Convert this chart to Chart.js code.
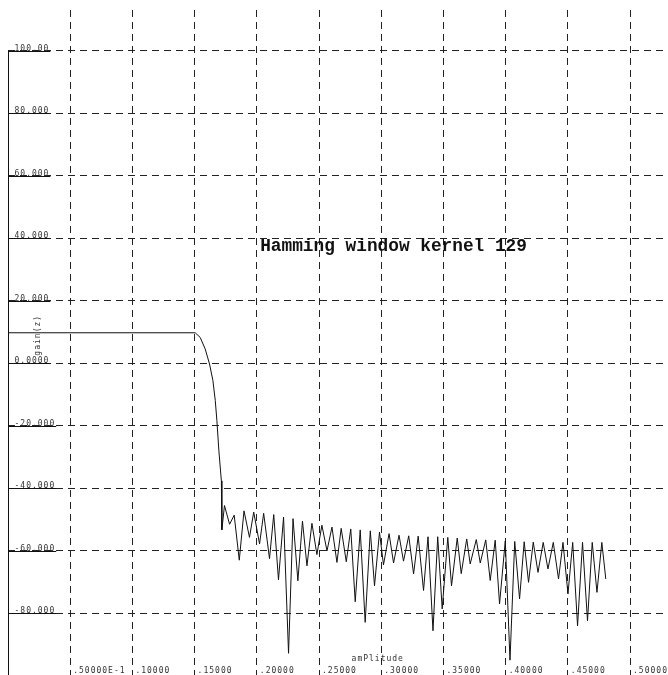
<!DOCTYPE html>
<html>
<head>
<meta charset="utf-8">
<script src="https://cdn.jsdelivr.net/npm/chart.js@4/dist/chart.umd.min.js"></script>
<style>
  html, body { margin: 0; padding: 0; background: #fff; }
  #wrap { width: 668px; height: 675px; position: relative; }
</style>
</head>
<body>
<div id="wrap"><canvas id="respuesta"></canvas></div>
<script>
// frequency response (x = normalised frequency, y = gain)
var frecuencia = [
  0.0000, 0.1505, 0.1545, 0.1585, 0.1620, 0.1647, 0.1666, 0.1679, 0.1695, 0.1715,
  0.1719, 0.1740, 0.1781, 0.1818, 0.1859, 0.1897, 0.1941, 0.1975, 0.2022, 0.2055,
  0.2102, 0.2136, 0.2174, 0.2215, 0.2255, 0.2291, 0.2330, 0.2367, 0.2403, 0.2443,
  0.2483, 0.2523, 0.2564, 0.2604, 0.2644, 0.2678, 0.2719, 0.2755, 0.2791, 0.2831,
  0.2871, 0.2912, 0.2946, 0.2986, 0.3018, 0.3063, 0.3099, 0.3143, 0.3179, 0.3221,
  0.3260, 0.3297, 0.3340, 0.3376, 0.3416, 0.3454, 0.3490, 0.3535, 0.3565, 0.3611,
  0.3643, 0.3687, 0.3715, 0.3764, 0.3796, 0.3840, 0.3876, 0.3916, 0.3951, 0.3997,
  0.4035, 0.4073, 0.4112, 0.4149, 0.4184, 0.4222, 0.4260, 0.4302, 0.4340, 0.4383,
  0.4425, 0.4461, 0.4501, 0.4539, 0.4578, 0.4618, 0.4658, 0.4696, 0.4734, 0.4773,
  0.4805
];
var ganancia = [
  9.8, 9.8, 8.3, 4.6, -0.2, -5.5, -11.9, -18.3, -28.0, -37.6,
  -53.3, -45.5, -51.5, -48.6, -63.0, -47.2, -55.7, -47.6, -57.8, -48.0,
  -62.5, -48.4, -69.3, -49.2, -92.8, -49.7, -69.6, -50.5, -64.8, -51.2,
  -61.2, -51.8, -60.0, -52.4, -63.7, -52.8, -63.5, -53.0, -76.3, -53.3,
  -82.9, -53.6, -71.2, -54.0, -64.5, -54.5, -63.9, -55.0, -63.3, -55.2,
  -67.4, -55.3, -72.7, -55.5, -85.6, -55.5, -78.6, -55.7, -71.2, -55.9,
  -67.3, -56.2, -64.2, -56.4, -63.9, -56.5, -69.5, -56.6, -77.0, -56.8,
  -95.0, -57.0, -75.4, -57.1, -70.1, -57.2, -66.9, -57.3, -65.8, -57.3,
  -69.0, -57.3, -73.8, -57.3, -84.0, -57.3, -82.4, -57.3, -73.3, -57.3,
  -69.0
];

var xTicks = [0.05, 0.10, 0.15, 0.20, 0.25, 0.30, 0.35, 0.40, 0.45, 0.50];
var xTickLabels = ['.50000E-1', '.10000', '.15000', '.20000', '.25000', '.30000', '.35000', '.40000', '.45000', '.50000'];
var yTicks = [-80, -60, -40, -20, 0, 20, 40, 60, 80, 100];
var yTickLabels = ['-80.000', '-60.000', '-40.000', '-20.000', '0.0000', '20.000', '40.000', '60.000', '80.000', '100.00'];

var titulo = 'Hamming window kernel 129';
var tituloX = 'amPlitude';
var tituloY = 'gain(z)';

var puntos = frecuencia.map(function (f, i) { return { x: f, y: ganancia[i] }; });

// texts, axis line and label underlines drawn on top of the chart
var textos = {
  id: 'textos',
  afterDraw: function (chart) {
    var ctx = chart.ctx;
    var x = chart.scales.x;
    var y = chart.scales.y;
    var area = chart.chartArea;
    var x0 = Math.round(x.getPixelForValue(0)) + 0.5;

    ctx.save();
    ctx.strokeStyle = '#111';
    ctx.lineWidth = 1;
    ctx.beginPath();
    ctx.moveTo(x0, Math.round(y.getPixelForValue(100)));
    ctx.lineTo(x0, area.bottom);
    ctx.stroke();

    ctx.fillStyle = '#333';
    ctx.font = '8px "DejaVu Sans Mono"';
    ctx.letterSpacing = '1px';
    ctx.textAlign = 'left';
    ctx.textBaseline = 'alphabetic';
    yTicks.forEach(function (v, i) {
      var py = Math.round(y.getPixelForValue(v)) + 0.5;
      var w = ctx.measureText(yTickLabels[i]).width;
      ctx.beginPath();
      ctx.moveTo(x0, py);
      ctx.lineTo(x0 + 7 + w, py);
      ctx.stroke();
      ctx.fillText(yTickLabels[i], x0 + 6, py - 1);
    });
    xTicks.forEach(function (v, i) {
      ctx.fillText(xTickLabels[i], x.getPixelForValue(v) + 3, area.bottom - 2);
    });

    ctx.textAlign = 'center';
    ctx.fillText(tituloX, x.getPixelForValue(0.2972), area.bottom - 14);

    ctx.save();
    ctx.translate(x0 + 29, y.getPixelForValue(9));
    ctx.rotate(-Math.PI / 2);
    ctx.textBaseline = 'middle';
    ctx.fillText(tituloY, 0, 0);
    ctx.restore();

    ctx.letterSpacing = '0px';
    ctx.fillStyle = '#111';
    ctx.textAlign = 'left';
    ctx.font = 'bold 17.8px "Liberation Mono"';
    ctx.fillText(titulo, x.getPixelForValue(0.2027), y.getPixelForValue(36.1));
    ctx.restore();
  }
};

var ctx = document.getElementById('respuesta');
var myChart = new Chart(ctx, {
  type: 'line',
  data: {
    datasets: [{
      label: 'gain',
      data: puntos,
      borderColor: '#111',
      borderWidth: 1,
      pointRadius: 0,
      tension: 0,
      fill: false
    }]
  },
  options: {
    responsive: true,
    maintainAspectRatio: false,
    animation: false,
    layout: { padding: { left: 8, top: 10, right: 0, bottom: 0 } },
    plugins: {
      legend: { display: false },
      tooltip: { enabled: false },
      title: { display: false }
    },
    scales: {
      x: {
        type: 'linear',
        min: 0,
        max: 0.5305,
        afterBuildTicks: function (axis) {
          axis.ticks = xTicks.map(function (v) { return { value: v }; });
        },
        ticks: { display: false },
        grid: { color: '#222', lineWidth: 1, drawTicks: false, borderDash: [7, 5] },
        border: { display: false, dash: [7, 5] }
      },
      y: {
        type: 'linear',
        min: -99.75,
        max: 113.12,
        afterBuildTicks: function (axis) {
          axis.ticks = yTicks.map(function (v) { return { value: v }; });
        },
        ticks: { display: false },
        grid: { color: '#222', lineWidth: 1, drawTicks: false, borderDash: [7, 5] },
        border: { display: false, dash: [7, 5] }
      }
    }
  },
  plugins: [textos]
});
</script>
</body>
</html>
